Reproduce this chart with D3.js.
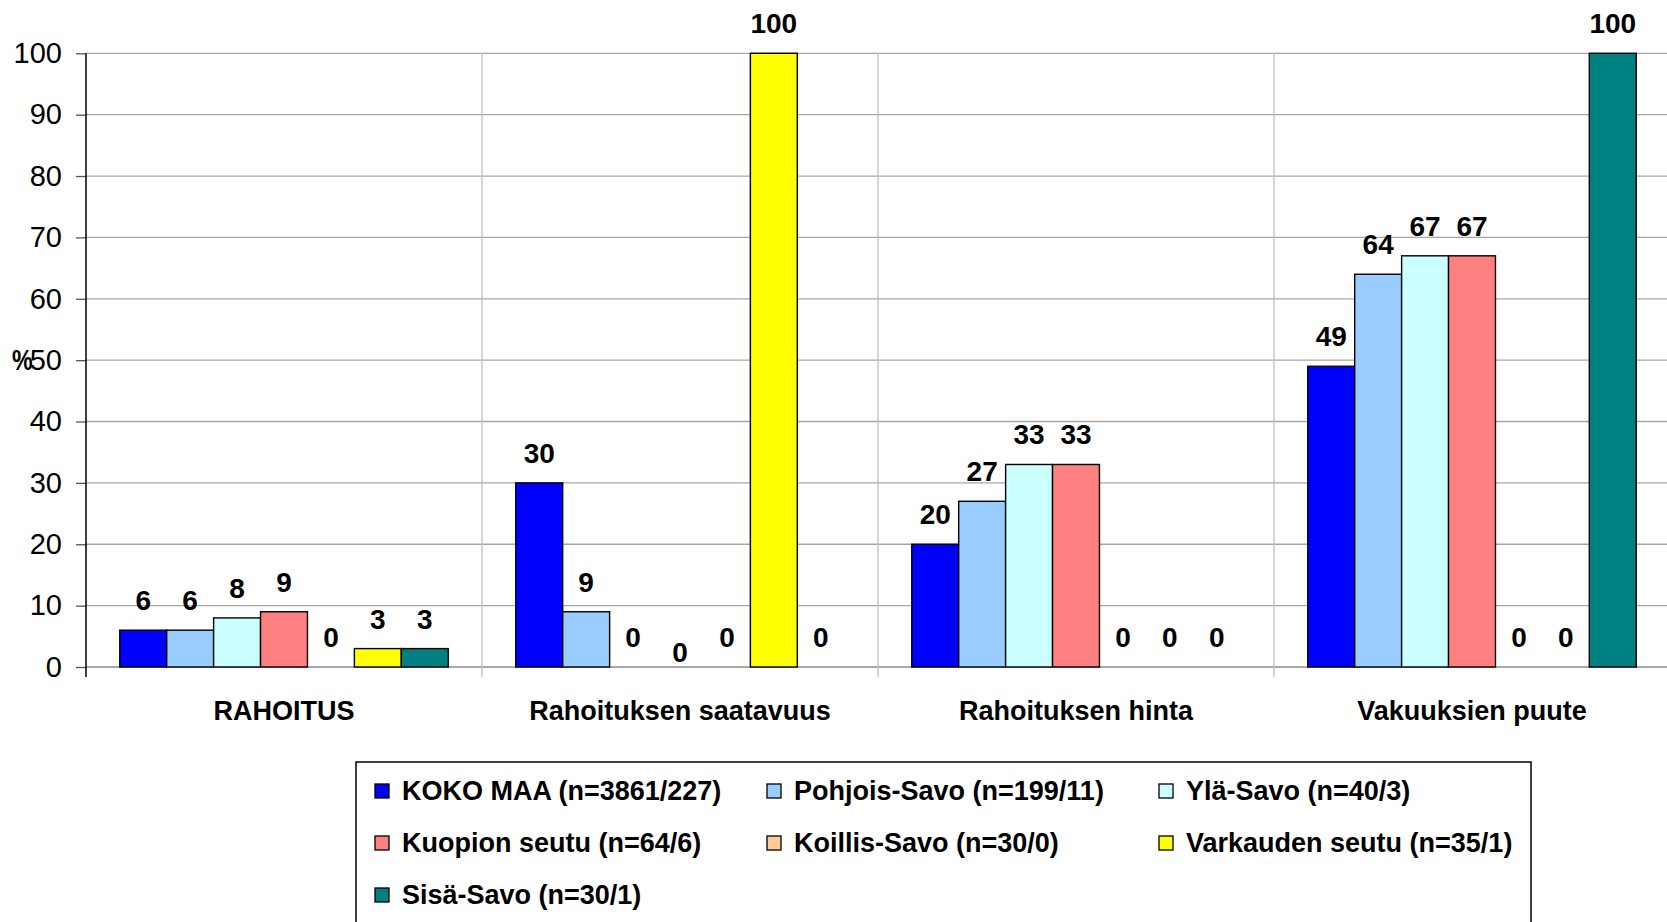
<!DOCTYPE html>
<html>
<head>
<meta charset="utf-8">
<script src="https://cdn.jsdelivr.net/npm/d3@7"></script>
<style>
    body { margin: 0; background: #fff; }
    #chart { width: 1667px; height: 922px; overflow: hidden; }
    text { font-family: "Liberation Sans", Arial, sans-serif; fill: #000; }
</style>
</head>
<body>
<div id="chart"></div>
<script>
// Chart data
const categories = ["RAHOITUS", "Rahoituksen saatavuus", "Rahoituksen hinta", "Vakuuksien puute"];
const seriesNames = [
    "KOKO MAA (n=3861/227)",
    "Pohjois-Savo (n=199/11)",
    "Ylä-Savo (n=40/3)",
    "Kuopion seutu (n=64/6)",
    "Koillis-Savo (n=30/0)",
    "Varkauden seutu (n=35/1)",
    "Sisä-Savo (n=30/1)"
];
const kokoMaa = [6, 30, 20, 49];
const pohjoisSavo = [6, 9, 27, 64];
const ylaSavo = [8, 0, 33, 67];
const kuopionSeutu = [9, null, 33, 67]; // null = missing point, Excel still prints "0"
const koillisSavo = [0, 0, 0, 0];
const varkaudenSeutu = [3, 100, 0, 0];
const sisaSavo = [3, 0, 0, 100];
const yTicks = [0, 10, 20, 30, 40, 50, 60, 70, 80, 90, 100];

const seriesValues = [kokoMaa, pohjoisSavo, ylaSavo, kuopionSeutu, koillisSavo, varkaudenSeutu, sisaSavo];
const seriesColors = ['#0000ff', '#99ccff', '#ccffff', '#ff8080', '#ffcc99', '#ffff00', '#008080'];

const width = 1667, height = 922;
const plotLeft = 86, plotRight = 1670, plotTop = 53.3, plotBottom = 667;

const svg = d3.select("#chart")
    .append("svg")
    .attr("width", width)
    .attr("height", height);

const x0 = d3.scaleBand()
    .domain(categories)
    .range([plotLeft, plotRight])
    .paddingInner(0)
    .paddingOuter(0);

const x1 = d3.scaleBand()
    .domain(d3.range(seriesNames.length))
    .range([0, x0.bandwidth()])
    .paddingInner(0)
    .paddingOuter(0.72);

const y = d3.scaleLinear()
    .domain([0, 100])
    .range([plotBottom, plotTop]);

// Horizontal gridlines
svg.append("g")
    .selectAll("line")
    .data(yTicks)
    .join("line")
    .attr("x1", plotLeft)
    .attr("x2", width)
    .attr("y1", d => y(d))
    .attr("y2", d => y(d))
    .attr("stroke", d => d === 0 ? "#8c8c8c" : "#a6a6a6")
    .attr("stroke-width", 1.3);

// Vertical separators between categories, with ticks under the axis
const boundaries = categories.map(c => x0(c)).concat([plotRight]);
svg.append("g")
    .selectAll("line")
    .data(boundaries.slice(1))
    .join("line")
    .attr("x1", d => d)
    .attr("x2", d => d)
    .attr("y1", plotTop)
    .attr("y2", plotBottom + 10)
    .attr("stroke", "#c0c0c0")
    .attr("stroke-width", 1.3);

// Y axis
const yAxis = svg.append("g")
    .attr("transform", `translate(${plotLeft},0)`)
    .call(d3.axisLeft(y).tickValues(yTicks).tickSize(10).tickSizeOuter(0).tickPadding(14));
yAxis.select(".domain").remove();
yAxis.selectAll(".tick line").attr("stroke", "#555").attr("stroke-width", 1.3);
yAxis.selectAll(".tick text")
    .attr("font-size", 29)
    .attr("font-family", '"Liberation Sans", Arial, sans-serif');

svg.append("line")
    .attr("x1", plotLeft)
    .attr("x2", plotLeft)
    .attr("y1", plotTop)
    .attr("y2", plotBottom + 10)
    .attr("stroke", "#000")
    .attr("stroke-width", 1.5);

// "%" axis title, sits on top of the 50 label like the original
svg.append("text")
    .attr("transform", `translate(12,${y(50) + 10}) scale(0.8,1)`)
    .attr("font-size", 29)
    .attr("font-weight", "bold")
    .text("%");

// Category labels
const xAxis = svg.append("g")
    .attr("transform", `translate(0,${plotBottom})`)
    .call(d3.axisBottom(x0).tickSize(0).tickPadding(34));
xAxis.select(".domain").remove();
xAxis.selectAll(".tick text")
    .attr("font-size", 27)
    .attr("font-weight", "bold")
    .attr("font-family", '"Liberation Sans", Arial, sans-serif');

// Bars
const groups = svg.append("g")
    .selectAll("g")
    .data(categories)
    .join("g")
    .attr("transform", d => `translate(${x0(d)},0)`);

const cells = groups.selectAll(".cell")
    .data((c, ci) => seriesValues.map((vals, si) => ({ si: si, value: vals[ci] })))
    .join("g")
    .attr("class", "cell");

cells.filter(d => d.value > 0)
    .append("rect")
    .attr("x", d => x1(d.si))
    .attr("width", x1.bandwidth())
    .attr("y", d => y(d.value))
    .attr("height", d => y(0) - y(d.value))
    .attr("fill", d => seriesColors[d.si])
    .attr("stroke", "#000")
    .attr("stroke-width", 1.4);

// Data labels
cells.append("text")
    .attr("x", d => x1(d.si) + x1.bandwidth() / 2)
    .attr("y", d => d.value == null ? y(0) - 5 : y(d.value) - 20)
    .attr("text-anchor", "middle")
    .attr("font-size", 28)
    .attr("font-weight", "bold")
    .text(d => d.value == null ? 0 : d.value);

// Legend
const legend = svg.append("g");
legend.append("rect")
    .attr("x", 356)
    .attr("y", 762)
    .attr("width", 1175)
    .attr("height", 200)
    .attr("fill", "#fff")
    .attr("stroke", "#000")
    .attr("stroke-width", 1.5);

const legendCol = d3.scaleOrdinal().domain([0, 1, 2]).range([375, 767, 1159]);
const legendRow = d3.scaleOrdinal().domain([0, 1, 2]).range([791, 843, 895]);

const items = legend.selectAll(".item")
    .data(seriesNames)
    .join("g")
    .attr("class", "item")
    .attr("transform", (d, i) => `translate(${legendCol(i % 3)},${legendRow(Math.floor(i / 3))})`);

items.append("rect")
    .attr("x", 0)
    .attr("y", -7)
    .attr("width", 14)
    .attr("height", 14)
    .attr("fill", (d, i) => seriesColors[i])
    .attr("stroke", "#000")
    .attr("stroke-width", 1.3);

items.append("text")
    .attr("x", 27)
    .attr("y", 9)
    .attr("font-size", 27)
    .attr("font-weight", "bold")
    .text(d => d);
</script>
</body>
</html>
